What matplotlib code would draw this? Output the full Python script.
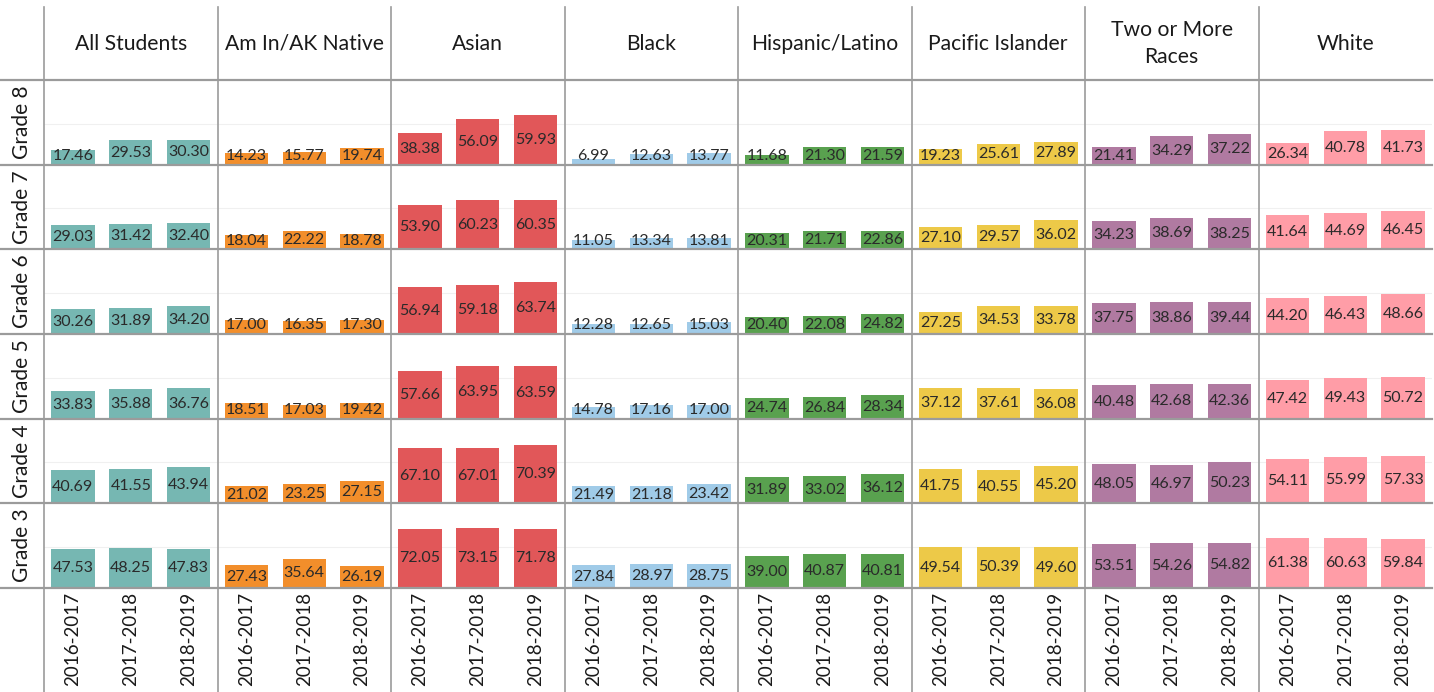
import matplotlib
matplotlib.use('Agg')
import matplotlib.pyplot as plt
from matplotlib.lines import Line2D

plt.rcParams['font.family'] = ['Lato', 'DejaVu Sans']

# Column groups and grade rows (top to bottom)
groups = ['All Students', 'Am In/AK Native', 'Asian', 'Black', 'Hispanic/Latino',
          'Pacific Islander', 'Two or More\nRaces', 'White']
grades = ['Grade 8', 'Grade 7', 'Grade 6', 'Grade 5', 'Grade 4', 'Grade 3']
years = ['2016-2017', '2017-2018', '2018-2019']
colors = ['#76B7B2', '#F28E2B', '#E15759', '#A0CBE8', '#59A14F', '#EDC948', '#B07AA1', '#FF9DA7']

# values per group, one row per grade (8 -> 3), three school years each
all_students = [[17.46, 29.53, 30.30], [29.03, 31.42, 32.40], [30.26, 31.89, 34.20],
                [33.83, 35.88, 36.76], [40.69, 41.55, 43.94], [47.53, 48.25, 47.83]]
am_in_native = [[14.23, 15.77, 19.74], [18.04, 22.22, 18.78], [17.00, 16.35, 17.30],
                [18.51, 17.03, 19.42], [21.02, 23.25, 27.15], [27.43, 35.64, 26.19]]
asian = [[38.38, 56.09, 59.93], [53.90, 60.23, 60.35], [56.94, 59.18, 63.74],
         [57.66, 63.95, 63.59], [67.10, 67.01, 70.39], [72.05, 73.15, 71.78]]
black = [[6.99, 12.63, 13.77], [11.05, 13.34, 13.81], [12.28, 12.65, 15.03],
         [14.78, 17.16, 17.00], [21.49, 21.18, 23.42], [27.84, 28.97, 28.75]]
hispanic = [[11.68, 21.30, 21.59], [20.31, 21.71, 22.86], [20.40, 22.08, 24.82],
            [24.74, 26.84, 28.34], [31.89, 33.02, 36.12], [39.00, 40.87, 40.81]]
pacific = [[19.23, 25.61, 27.89], [27.10, 29.57, 36.02], [27.25, 34.53, 33.78],
           [37.12, 37.61, 36.08], [41.75, 40.55, 45.20], [49.54, 50.39, 49.60]]
two_or_more = [[21.41, 34.29, 37.22], [34.23, 38.69, 38.25], [37.75, 38.86, 39.44],
               [40.48, 42.68, 42.36], [48.05, 46.97, 50.23], [53.51, 54.26, 54.82]]
white = [[26.34, 40.78, 41.73], [41.64, 44.69, 46.45], [44.20, 46.43, 48.66],
         [47.42, 49.43, 50.72], [54.11, 55.99, 57.33], [61.38, 60.63, 59.84]]

data = [all_students, am_in_native, asian, black, hispanic, pacific, two_or_more, white]

W, H = 1434, 692
fig = plt.figure(figsize=(W / 100, H / 100), dpi=100)

left, right = 44, 1432
top_hdr, top, bottom = 7, 80, 588
cw = (right - left) / len(groups)
rh = (bottom - top) / len(grades)
line_c = '#9b9b9b'
txt_c = '#1a1a1a'


def fx(px):
    return px / W


def fy(py):
    return 1 - py / H


for c, g in enumerate(groups):
    for r, gr in enumerate(grades):
        x0 = left + c * cw
        y0 = top + (r + 1) * rh
        ax = fig.add_axes([fx(x0), fy(y0), cw / W, rh / H])
        vals = data[c][r]
        ax.bar(range(3), vals, width=0.75, color=colors[c], zorder=2)
        for i, v in enumerate(vals):
            ax.text(i, max(v / 2, 10.5), f'{v:.2f}', ha='center', va='center',
                    fontsize=11.5, color='#2a2a2a', zorder=3)
        ax.set_xlim(-0.5, 2.5)
        ax.set_ylim(0, 103)
        ax.axhline(50, color='#f0f0f0', lw=0.8, zorder=1)
        for s in ax.spines.values():
            s.set_visible(False)
        ax.set_yticks([])
        ax.patch.set_alpha(0)
        if r == len(grades) - 1:
            ax.set_xticks(range(3))
            ax.set_xticklabels(years, rotation=90, fontsize=13.5, color=txt_c)
            ax.tick_params(axis='x', length=0, pad=3)
        else:
            ax.set_xticks([])
    fig.text(fx(left + (c + 0.5) * cw), fy((top_hdr + top) / 2), g, ha='center', va='center',
             fontsize=15.2, color=txt_c, linespacing=1.45)

for r, gr in enumerate(grades):
    fig.text(fx(22), fy(top + (r + 0.5) * rh), gr, rotation=90, ha='center', va='center',
             fontsize=15, color=txt_c)

# grid lines of the table
for c in range(len(groups)):
    x = left + c * cw
    fig.add_artist(Line2D([fx(x), fx(x)], [fy(top_hdr), 0], color=line_c, lw=1.2))
for r in range(len(grades) + 1):
    y = top + r * rh
    fig.add_artist(Line2D([0, fx(right)], [fy(y), fy(y)], color=line_c, lw=1.6))

fig.savefig('out.png', dpi=100)
